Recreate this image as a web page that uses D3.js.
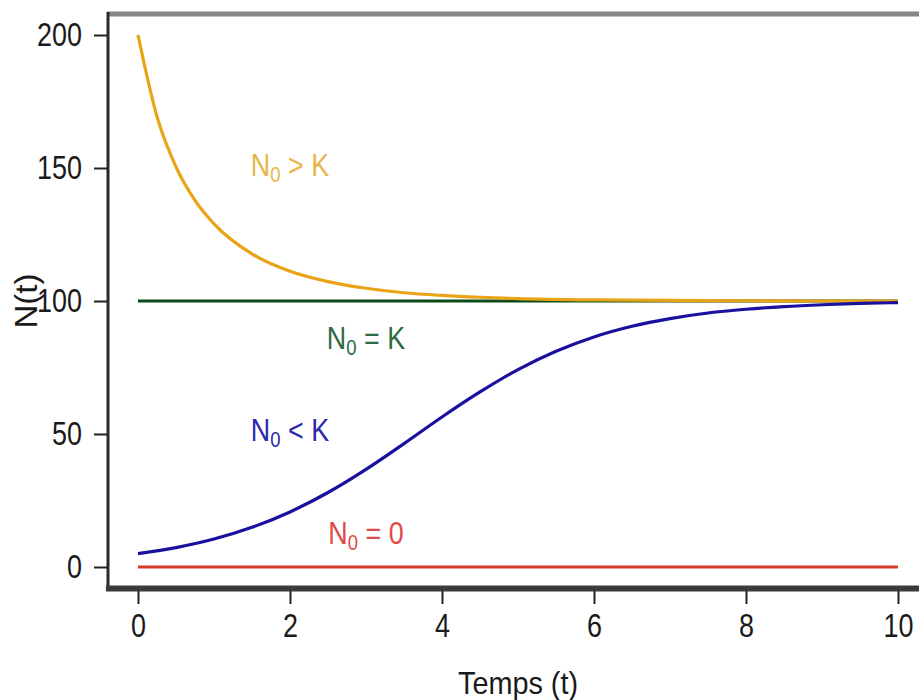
<!DOCTYPE html>
<html><head><meta charset="utf-8">
<script src="https://cdn.jsdelivr.net/npm/d3@7"></script>
<style>
html,body{margin:0;padding:0;background:#fff;}
svg{display:block;font-family:"Liberation Sans",Arial,sans-serif;}
</style></head>
<body>
<svg id="chart" width="919" height="700"></svg>
<script>
// ---- data ----
const tAbove = [0,0.25,0.5,0.75,1,1.5,2,2.5,3,3.5,4,4.5,5,6,7,8,9,10];
const nAbove = [200,169.3,150.4,137.8,129.0,117.7,111.2,107.3,104.8,103.1,102.1,101.4,100.9,100.4,100.2,100.1,100.0,100.0];
const tBelow = [0,0.5,1,1.5,2,2.5,3,3.5,4,4.5,5,5.5,6,6.5,7,7.5,8,8.5,9,9.5,10];
const nBelow = [5,7.3,10.5,14.9,20.7,28.0,36.7,46.4,56.4,65.8,74.2,81.1,86.5,90.5,93.4,95.5,96.9,97.9,98.6,99.1,99.4];
const tFlat = [0,10];
const nEqualK = [100,100];
const nZero = [0,0];
const xTicks = [0,2,4,6,8,10];
const yTicks = [0,50,100,150,200];
const labelMain = ["N","N","N","N"];
const labelSub = ["0","0","0","0"];
const labelRest = [" > K"," = K"," < K"," = 0"];
const labelT = [2,3,2,3];
const labelN = [151,86,51.5,12.8];
const lineColors = ["#e8a317","#0b4a18","#1a10a0","#d23a2e"];
const labelColors = ["#e8b54a","#2e6a45","#2a2aa8","#e04a48"];

const svg = d3.select("#chart");
const x = d3.scaleLinear().domain([0,10]).range([138,898]);
const y = d3.scaleLinear().domain([0,200]).range([567,35]);

// frame lines
svg.append("line").attr("x1",107).attr("x2",919).attr("y1",14).attr("y2",14)
  .attr("stroke","#868686").attr("stroke-width",5);
svg.append("line").attr("x1",108).attr("x2",108).attr("y1",12).attr("y2",591)
  .attr("stroke","#2a2a2a").attr("stroke-width",3);
svg.append("line").attr("x1",106).attr("x2",919).attr("y1",588.5).attr("y2",588.5)
  .attr("stroke","#3a3a3a").attr("stroke-width",6);

// axes
const gx = svg.append("g").attr("transform","translate(0,591)")
  .call(d3.axisBottom(x).tickValues(xTicks).tickFormat(d3.format("d")).tickSize(13).tickPadding(9));
gx.select(".domain").remove();
gx.selectAll(".tick line").attr("stroke","#222").attr("stroke-width",2);
gx.selectAll(".tick text").attr("font-size",34).attr("fill","#1a1a1a")
  .attr("font-family","Liberation Sans, Arial, sans-serif");
gx.selectAll(".tick").each(function(d){
  d3.select(this).select("text").attr("textLength", String(d).length*15).attr("lengthAdjust","spacingAndGlyphs");
});

const gy = svg.append("g").attr("transform","translate(107,0)")
  .call(d3.axisLeft(y).tickValues(yTicks).tickFormat(d3.format("d")).tickSize(13).tickPadding(12));
gy.select(".domain").remove();
gy.selectAll(".tick line").attr("stroke","#222").attr("stroke-width",2);
gy.selectAll(".tick text").attr("font-size",34).attr("fill","#1a1a1a")
  .attr("font-family","Liberation Sans, Arial, sans-serif");
gy.selectAll(".tick").each(function(d){
  d3.select(this).select("text").attr("textLength", String(d).length*15).attr("lengthAdjust","spacingAndGlyphs");
});

// axis titles
svg.append("text").attr("x",518).attr("y",694).attr("text-anchor","middle")
  .attr("font-size",32).attr("fill","#1a1a1a").attr("textLength",120).attr("lengthAdjust","spacingAndGlyphs")
  .text("Temps (t)");
svg.append("text").attr("transform","translate(37,301) rotate(-90)").attr("text-anchor","middle")
  .attr("font-size",32).attr("fill","#1a1a1a").attr("textLength",55).attr("lengthAdjust","spacingAndGlyphs")
  .text("N(t)");

// curves
const line = d3.line().x(d=>x(d[0])).y(d=>y(d[1])).curve(d3.curveMonotoneX);
const series = [
  d3.zip(tFlat,nZero),
  d3.zip(tFlat,nEqualK),
  d3.zip(tAbove,nAbove),
  d3.zip(tBelow,nBelow)
];
const seriesColor = [lineColors[3],lineColors[1],lineColors[0],lineColors[2]];
series.forEach((s,i)=>{
  svg.append("path").datum(s).attr("d",line).attr("fill","none")
    .attr("stroke",seriesColor[i]).attr("stroke-width",3.2);
});

// labels (condensed horizontally like the reference)
labelT.forEach((t,i)=>{
  const txt = svg.append("text")
    .attr("transform",`translate(${x(t)},${y(labelN[i])+11}) scale(0.84,1)`)
    .attr("text-anchor","middle").attr("font-size",32).attr("fill",labelColors[i]);
  txt.append("tspan").text(labelMain[i]);
  txt.append("tspan").attr("font-size",22).attr("dy",6).text(labelSub[i]);
  txt.append("tspan").attr("dy",-6).text(labelRest[i]);
});
</script>
</body></html>
